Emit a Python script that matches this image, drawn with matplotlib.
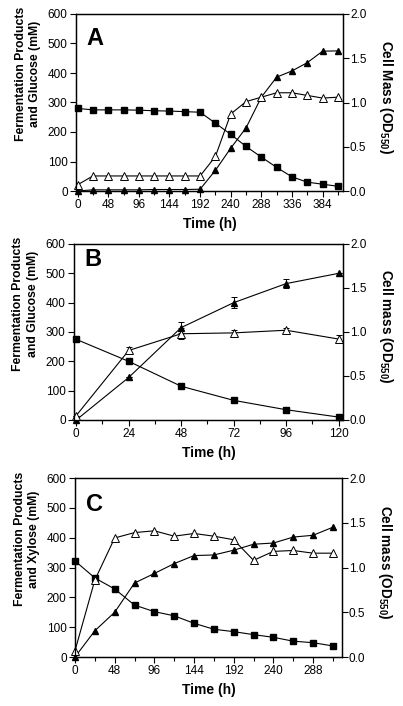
import matplotlib
matplotlib.use("Agg")
import matplotlib.pyplot as plt
from matplotlib.ticker import MultipleLocator, FormatStrFormatter

plt.rcParams["font.family"] = ["Liberation Sans", "DejaVu Sans"]
plt.rcParams["mathtext.fontset"] = "custom"
plt.rcParams["mathtext.bf"] = "Liberation Sans:bold"
plt.rcParams["mathtext.rm"] = "Liberation Sans"

# panel A: glucose, 0-408 h
t_a = [0, 24, 48, 72, 96, 120, 144, 168, 192, 216, 240, 264, 288, 312, 336, 360, 384, 408]
sugar_a = [280, 275, 275, 275, 274, 272, 271, 269, 267, 230, 192, 151, 115, 80, 48, 30, 23, 16]
etoh_a = [0, 4, 4, 4, 4, 5, 5, 5, 6, 70, 145, 214, 318, 386, 407, 435, 474, 475]
od_a = [0.07, 0.17, 0.17, 0.17, 0.17, 0.17, 0.17, 0.17, 0.17, 0.39, 0.87, 1.01, 1.06, 1.11, 1.11, 1.08, 1.05, 1.06]

# panel B: glucose, 0-120 h, with error bars
t_b = [0, 24, 48, 72, 96, 120]
sugar_b = [275, 200, 115, 67, 35, 10]
etoh_b = [0, 145, 315, 400, 465, 500]
etoh_b_err = [0, 0, 18, 18, 15, 0]
od_b = [0.05, 0.79, 0.98, 0.99, 1.02, 0.92]
od_b_err = [0, 0.04, 0.06, 0.03, 0.03, 0.05]

# panel C: xylose, 0-312 h
t_c = [0, 24, 48, 72, 96, 120, 144, 168, 192, 216, 240, 264, 288, 312]
sugar_c = [322, 265, 228, 174, 152, 138, 113, 93, 85, 75, 66, 53, 48, 37]
etoh_c = [0, 88, 150, 248, 280, 313, 340, 342, 358, 378, 382, 402, 408, 435]
od_c = [0.07, 0.86, 1.33, 1.39, 1.41, 1.35, 1.38, 1.35, 1.31, 1.08, 1.18, 1.19, 1.16, 1.16]

fig = plt.figure(figsize=(4.03, 7.06), dpi=100)

W, H = 403, 706


def make_axes(left, right, top, bottom):
    return fig.add_axes([left / W, 1 - bottom / H, (right - left) / W, (bottom - top) / H])


def draw_panel(ax, t, sugar, etoh, od, letter, sugar_name, mass_word, xlim, major, minor,
               etoh_err=None, od_err=None, letter_y=0.86):
    line_kw = dict(color="black", lw=0.8, clip_on=False)
    ax.plot(t, sugar, marker="s", ms=4.6, mfc="black", mec="black", **line_kw)
    if etoh_err is None:
        ax.plot(t, etoh, marker="^", ms=4.8, mfc="black", mec="black", **line_kw)
    else:
        ax.errorbar(t, etoh, yerr=etoh_err, marker="^", ms=4.8, mfc="black", mec="black",
                    capsize=2.5, elinewidth=0.7, capthick=0.7, **line_kw)
    ax.set_xlim(*xlim)
    ax.set_ylim(0, 600)
    ax.yaxis.set_major_locator(MultipleLocator(100))
    ax.xaxis.set_major_locator(MultipleLocator(major))
    ax.xaxis.set_minor_locator(MultipleLocator(minor))
    ax.tick_params(direction="out", length=4, width=0.8, labelsize=8.5, pad=2)
    ax.tick_params(which="minor", direction="out", length=3, width=0.8)
    ax.tick_params(axis="x", top=False)
    ax.set_xlabel("Time (h)", fontsize=10, fontweight="bold", labelpad=4)
    ax.set_ylabel("Fermentation Products\nand " + sugar_name + " (mM)",
                  fontsize=8.8, fontweight="bold", linespacing=1.3)
    ax.yaxis.set_label_coords(-0.13, 0.66)
    ax.text(0.04, letter_y, letter, transform=ax.transAxes, fontsize=17,
            fontweight="bold", va="center", ha="left")

    ax2 = ax.twinx()
    if od_err is None:
        ax2.plot(t, od, marker="^", ms=5.2, mfc="white", mec="black", mew=0.7, **line_kw)
    else:
        ax2.errorbar(t, od, yerr=od_err, marker="^", ms=5.2, mfc="white", mec="black",
                     mew=0.7, capsize=2.5, elinewidth=0.7, capthick=0.7, **line_kw)
    ax2.set_ylim(0, 2.0)
    ax2.yaxis.set_major_locator(MultipleLocator(0.5))
    ax2.yaxis.set_major_formatter(FormatStrFormatter("%.1f"))
    ax2.tick_params(direction="out", length=4, width=0.8, labelsize=8.5, pad=1)
    ax2.set_ylabel("Cell " + mass_word + r" (OD$_{\mathbf{550}}$)", rotation=270,
                   fontsize=9.8, fontweight="bold")
    ax2.yaxis.set_label_coords(1.195, 0.53)
    for a in (ax, ax2):
        for s in a.spines.values():
            s.set_linewidth(0.9)


ax_a = make_axes(76, 343, 14, 191)
draw_panel(ax_a, t_a, sugar_a, etoh_a, od_a, "A", "Glucose", "Mass",
           (-2.5, 416), 48, 24, letter_y=0.86)

ax_b = make_axes(74, 343, 244, 420)
draw_panel(ax_b, t_b, sugar_b, etoh_b, od_b, "B", "Glucose", "mass",
           (-1, 122), 24, 12, etoh_err=etoh_b_err, od_err=od_b_err, letter_y=0.91)

ax_c = make_axes(75, 342, 478, 657)
draw_panel(ax_c, t_c, sugar_c, etoh_c, od_c, "C", "Xylose", "mass",
           (0, 323), 48, 24, letter_y=0.85)

fig.savefig("out.png", dpi=100)
